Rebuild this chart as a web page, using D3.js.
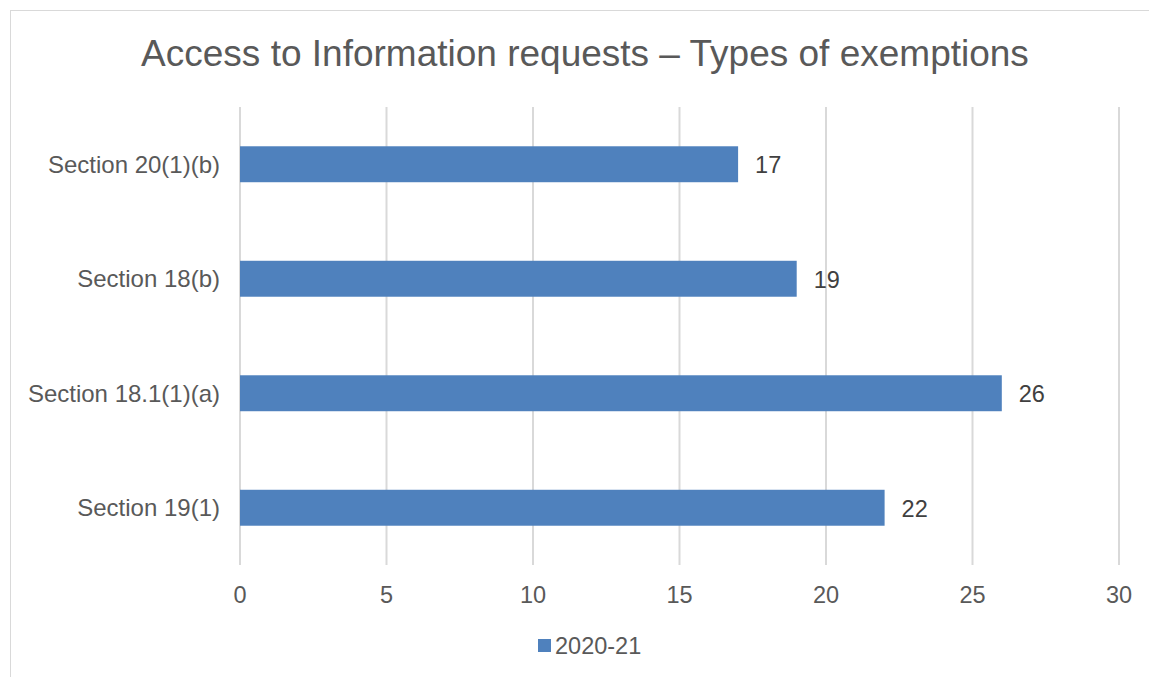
<!DOCTYPE html>
<html lang="en">
  <head>
    <meta charset="utf-8">
    <title>Access to Information requests</title>
    <script src="https://d3js.org/d3.v7.min.js"></script>
    <style>
      body { margin: 0; background: #fff; }
      text { font-family: "Liberation Sans", Arial, sans-serif; }
    </style>
  </head>
  <body>
  <script>
  var categories = ["Section 20(1)(b)", "Section 18(b)", "Section 18.1(1)(a)", "Section 19(1)"];
  var values = [17, 19, 26, 22];
  var seriesName = "2020-21";
  var xTicks = [0, 5, 10, 15, 20, 25, 30];

  var w = 1149, h = 677;
  var margin = {top: 107, right: 30, bottom: 112, left: 240};

  var svg = d3.select("body").append("svg")
    .attr("width", w)
    .attr("height", h);

  // chart border
  svg.append("rect")
    .attr("x", 10.5).attr("y", 10.5)
    .attr("width", w + 10).attr("height", h + 10)
    .attr("fill", "none")
    .attr("stroke", "#d9d9d9");

  svg.append("text")
    .attr("x", 585).attr("y", 66)
    .attr("text-anchor", "middle")
    .attr("font-size", 37)
    .attr("fill", "#595959")
    .text("Access to Information requests \u2013 Types of exemptions");

  var xScale = d3.scaleLinear()
    .domain([0, 30])
    .range([margin.left, 1119]);

  var yScale = d3.scaleBand()
    .domain(categories)
    .range([margin.top, h - margin.bottom])
    .paddingInner(0.686)
    .paddingOuter(0.343);

  // gridlines
  svg.append("g").selectAll("line").data(xTicks).enter().append("line")
    .attr("x1", d => xScale(d)).attr("x2", d => xScale(d))
    .attr("y1", margin.top).attr("y2", h - margin.bottom)
    .attr("stroke", "#d9d9d9")
    .attr("stroke-width", 2);

  // x tick labels
  svg.append("g").selectAll("text").data(xTicks).enter().append("text")
    .attr("x", d => xScale(d))
    .attr("y", 603)
    .attr("text-anchor", "middle")
    .attr("font-size", 23.5)
    .attr("fill", "#595959")
    .text(d => d);

  // category labels
  svg.append("g").selectAll("text").data(categories).enter().append("text")
    .attr("x", 220)
    .attr("y", d => yScale(d) + yScale.bandwidth() / 2 + 8.5)
    .attr("text-anchor", "end")
    .attr("font-size", 24)
    .attr("fill", "#595959")
    .text(d => d);

  var data = categories.map((c, i) => ({cat: c, val: values[i]}));

  svg.append("g").selectAll("rect").data(data).enter().append("rect")
    .attr("x", xScale(0))
    .attr("y", d => yScale(d.cat))
    .attr("width", d => xScale(d.val) - xScale(0))
    .attr("height", yScale.bandwidth())
    .attr("fill", "#4f81bd");

  svg.append("g").selectAll("text").data(data).enter().append("text")
    .attr("x", d => xScale(d.val) + 17)
    .attr("y", d => yScale(d.cat) + yScale.bandwidth() / 2 + 9)
    .attr("font-size", 23.5)
    .attr("fill", "#404040")
    .text(d => d.val);

  // legend
  svg.append("rect")
    .attr("x", 538).attr("y", 639)
    .attr("width", 13).attr("height", 13)
    .attr("fill", "#4f81bd");
  svg.append("text")
    .attr("x", 555).attr("y", 654)
    .attr("font-size", 23.5)
    .attr("fill", "#595959")
    .text(seriesName);
  </script>
  </body>
</html>
